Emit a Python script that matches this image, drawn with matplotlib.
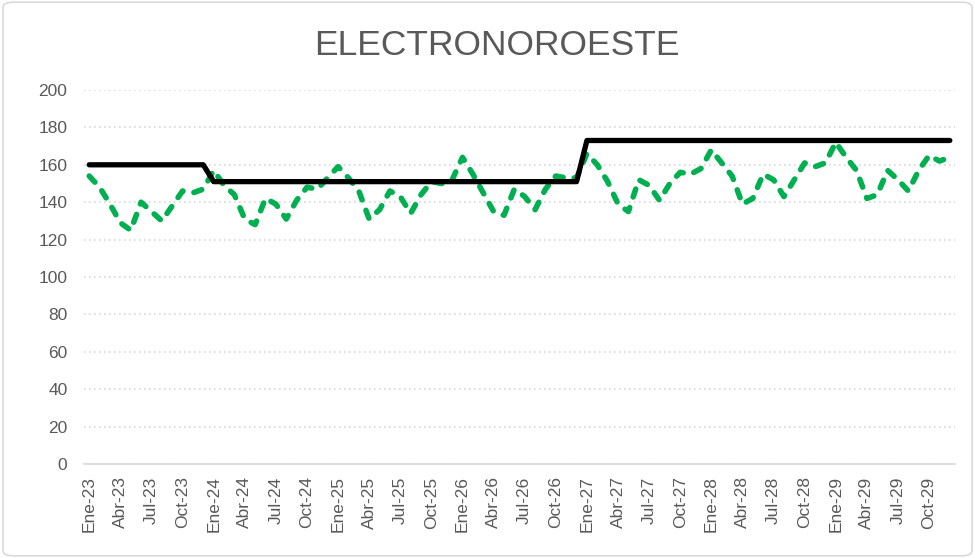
import numpy as np
import matplotlib.pyplot as plt
from matplotlib.patches import FancyBboxPatch

plt.rcParams['font.family'] = ['Liberation Sans', 'DejaVu Sans']

meses = ["Ene", "Feb", "Mar", "Abr", "May", "Jun", "Jul", "Ago", "Sep", "Oct", "Nov", "Dic"]
anios = ["23", "24", "25", "26", "27", "28", "29"]
labels = [m + "-" + a for a in anios for m in meses]

# demanda mensual (linea verde punteada)
demanda = [154, 148, 139, 129, 125, 140, 135, 130, 138, 146, 145, 147,
           157, 149, 144, 131, 128, 142, 139, 131, 141, 148, 147, 153,
           159, 153, 146, 131, 136, 146, 143, 134, 144, 151, 150, 152,
           164, 155, 145, 135, 133, 147, 143, 136, 147, 154, 153, 153,
           166, 160, 151, 139, 135, 152, 149, 141, 150, 156, 155, 158,
           168, 161, 154, 139, 142, 155, 152, 143, 152, 161, 159, 161,
           172, 164, 157, 142, 144, 157, 152, 146, 157, 165, 162, 164]

# nivel anual (linea negra)
nivel_anual = [160, 151, 151, 151, 173, 173, 173]
nivel = [v for v in nivel_anual for _ in range(12)]

x = np.arange(len(labels))

fig = plt.figure(figsize=(9.75, 5.58), dpi=100)
ax = fig.add_axes([0.0862, 0.1685, 0.8933, 0.6702])

ax.plot(x, nivel, "-", color="black", lw=3.8, solid_capstyle="round",
        solid_joinstyle="round", zorder=3)
ax.plot(x, demanda, color="#00B050", lw=4.0, dashes=(1.5, 2.0),
        dash_capstyle="round", zorder=2)

ax.set_xlim(-0.5, len(labels) - 0.5)
ax.set_ylim(0, 200)
ax.set_yticks(np.arange(0, 201, 20))
ax.set_xticks(x[::3])
ax.set_xticklabels(labels[::3], rotation=90)

ax.grid(axis="y", color="#D9D9D9", linestyle=(0, (1, 2)), lw=1.2)
ax.set_axisbelow(True)
for s in ["top", "right", "left"]:
    ax.spines[s].set_visible(False)
ax.spines["bottom"].set_color("#D9D9D9")
ax.spines["bottom"].set_linewidth(1.2)
ax.tick_params(axis="both", length=0, labelsize=12.5, labelcolor="#595959")
ax.tick_params(axis="y", pad=12)
ax.tick_params(axis="x", pad=9)

fig.text(0.51, 0.918, "ELECTRONOROESTE", ha="center", va="center",
         fontsize=25.5, color="#595959")

border = FancyBboxPatch((0.003, 0.004), 0.994, 0.992, boxstyle="round,pad=0,rounding_size=0.01",
                        transform=fig.transFigure, fill=False, ec="#D9D9D9", lw=1.2)
fig.patches.append(border)

fig.savefig("out.png", dpi=100)
